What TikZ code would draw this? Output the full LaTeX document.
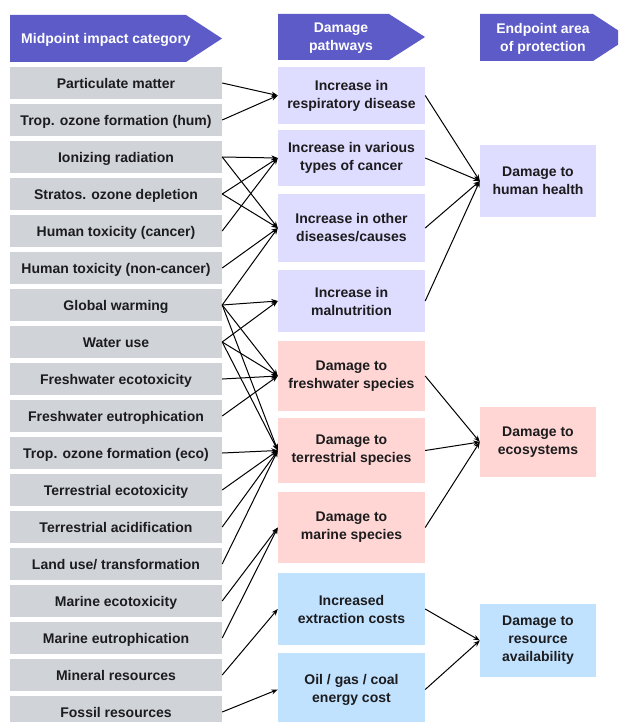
\documentclass[tikz,border=0pt]{standalone}
\usepackage{fontspec}
\setmainfont{Liberation Sans}
\usetikzlibrary{arrows.meta}
\definecolor{hdr}{RGB}{92,91,200}
\definecolor{catgray}{RGB}{208,212,217}
\definecolor{lav}{RGB}{222,220,255}
\definecolor{rose}{RGB}{255,214,212}
\definecolor{sky}{RGB}{192,226,255}
\definecolor{ink}{RGB}{28,28,30}
\begin{document}
\begin{tikzpicture}[x=1pt,y=-1pt,
  txt/.style={font=\fontsize{14}{18}\selectfont\bfseries, text=ink, align=center, inner sep=0pt},
  hdrtxt/.style={txt, text=white},
  cat/.style={txt, fill=catgray, minimum width=212pt, minimum height=32pt,
    text height=11.5pt, text depth=1pt},
  pathbox/.style={txt, minimum width=147pt},
  endbox/.style={txt, minimum width=116pt},
  link/.style={-{Stealth[length=6.5pt,width=5pt]}, line width=1pt, black}
]
\useasboundingbox (0,0) rectangle (618,722);
\clip (0,0) rectangle (618,722);

% column headers
\fill[hdr] (10,15) -- (186,15) -- (222,38.5) -- (186,62) -- (10,62) -- cycle;
\fill[hdr] (278,14) -- (389,14) -- (425,37) -- (389,60) -- (278,60) -- cycle;
\fill[hdr] (480,14) -- (593,14) -- (629,37.5) -- (593,61) -- (480,61) -- cycle;
\node[hdrtxt] (h1) at (106,40) {Midpoint impact category};
\node[hdrtxt] (h2) at (341,38) {Damage\\pathways};
\node[hdrtxt] (h3) at (543,38.5) {Endpoint area\\of protection};

% midpoint impact categories
\foreach \nm/\lab [count=\i from 0] in {
  pm/Particulate matter,
  tozh/Trop. ozone formation (hum),
  ion/Ionizing radiation,
  sod/Stratos. ozone depletion,
  htc/Human toxicity (cancer),
  htn/Human toxicity (non-cancer),
  gw/Global warming,
  wu/Water use,
  fet/Freshwater ecotoxicity,
  feu/Freshwater eutrophication,
  toze/Trop. ozone formation (eco),
  tet/Terrestrial ecotoxicity,
  tac/Terrestrial acidification,
  lu/{Land use/ transformation},
  met/Marine ecotoxicity,
  meu/Marine eutrophication,
  mr/Mineral resources,
  fr/Fossil resources}
  \node[cat] (\nm) at (116,83+37*\i) {\lab};

% damage pathways
\node[pathbox, fill=lav, minimum height=57pt] (resp) at (351.5,95.5) {Increase in\\respiratory disease};
\node[pathbox, fill=lav, minimum height=56pt] (canc) at (351.5,158) {Increase in various\\types of cancer};
\node[pathbox, fill=lav, minimum height=68pt] (oth) at (351.5,228) {Increase in other\\diseases/causes};
\node[pathbox, fill=lav, minimum height=62pt] (maln) at (351.5,301) {Increase in\\malnutrition};
\node[pathbox, fill=rose, minimum height=70pt] (fws) at (351.5,376) {Damage to\\freshwater species};
\node[pathbox, fill=rose, minimum height=65pt] (trs) at (351.5,450.5) {Damage to\\terrestrial species};
\node[pathbox, fill=rose, minimum height=71pt] (mas) at (351.5,527.5) {Damage to\\marine species};
\node[pathbox, fill=sky, minimum height=72pt] (extr) at (351.5,609) {Increased\\extraction costs};
\node[pathbox, fill=sky, minimum height=73pt] (oil) at (351.5,689.5) {Oil / gas / coal\\energy cost};

% endpoint areas of protection
\node[endbox, fill=lav, minimum height=72pt] (hh) at (538,181) {Damage to\\human health};
\node[endbox, fill=rose, minimum height=70pt] (eco) at (538,442) {Damage to\\ecosystems};
\node[endbox, fill=sky, minimum height=73pt] (res) at (538,640.5) {Damage to\\resource\\availability};

% midpoint -> pathway links
\foreach \a/\b in {pm/resp, tozh/resp,
  ion/canc, ion/oth, sod/canc, sod/oth, htc/canc, htn/oth,
  gw/oth, gw/maln, gw/fws, gw/trs,
  wu/maln, wu/fws, wu/trs,
  fet/fws, feu/fws,
  toze/trs, tet/trs, tac/trs, lu/trs,
  met/mas, meu/mas,
  mr/extr, fr/oil}
  \draw[link] (\a.east) -- (\b.west);

% pathway -> endpoint links
\foreach \a/\b in {resp/hh, canc/hh, oth/hh, maln/hh,
  fws/eco, trs/eco, mas/eco,
  extr/res, oil/res}
  \draw[link] (\a.east) -- (\b.west);
\end{tikzpicture}
\end{document}
